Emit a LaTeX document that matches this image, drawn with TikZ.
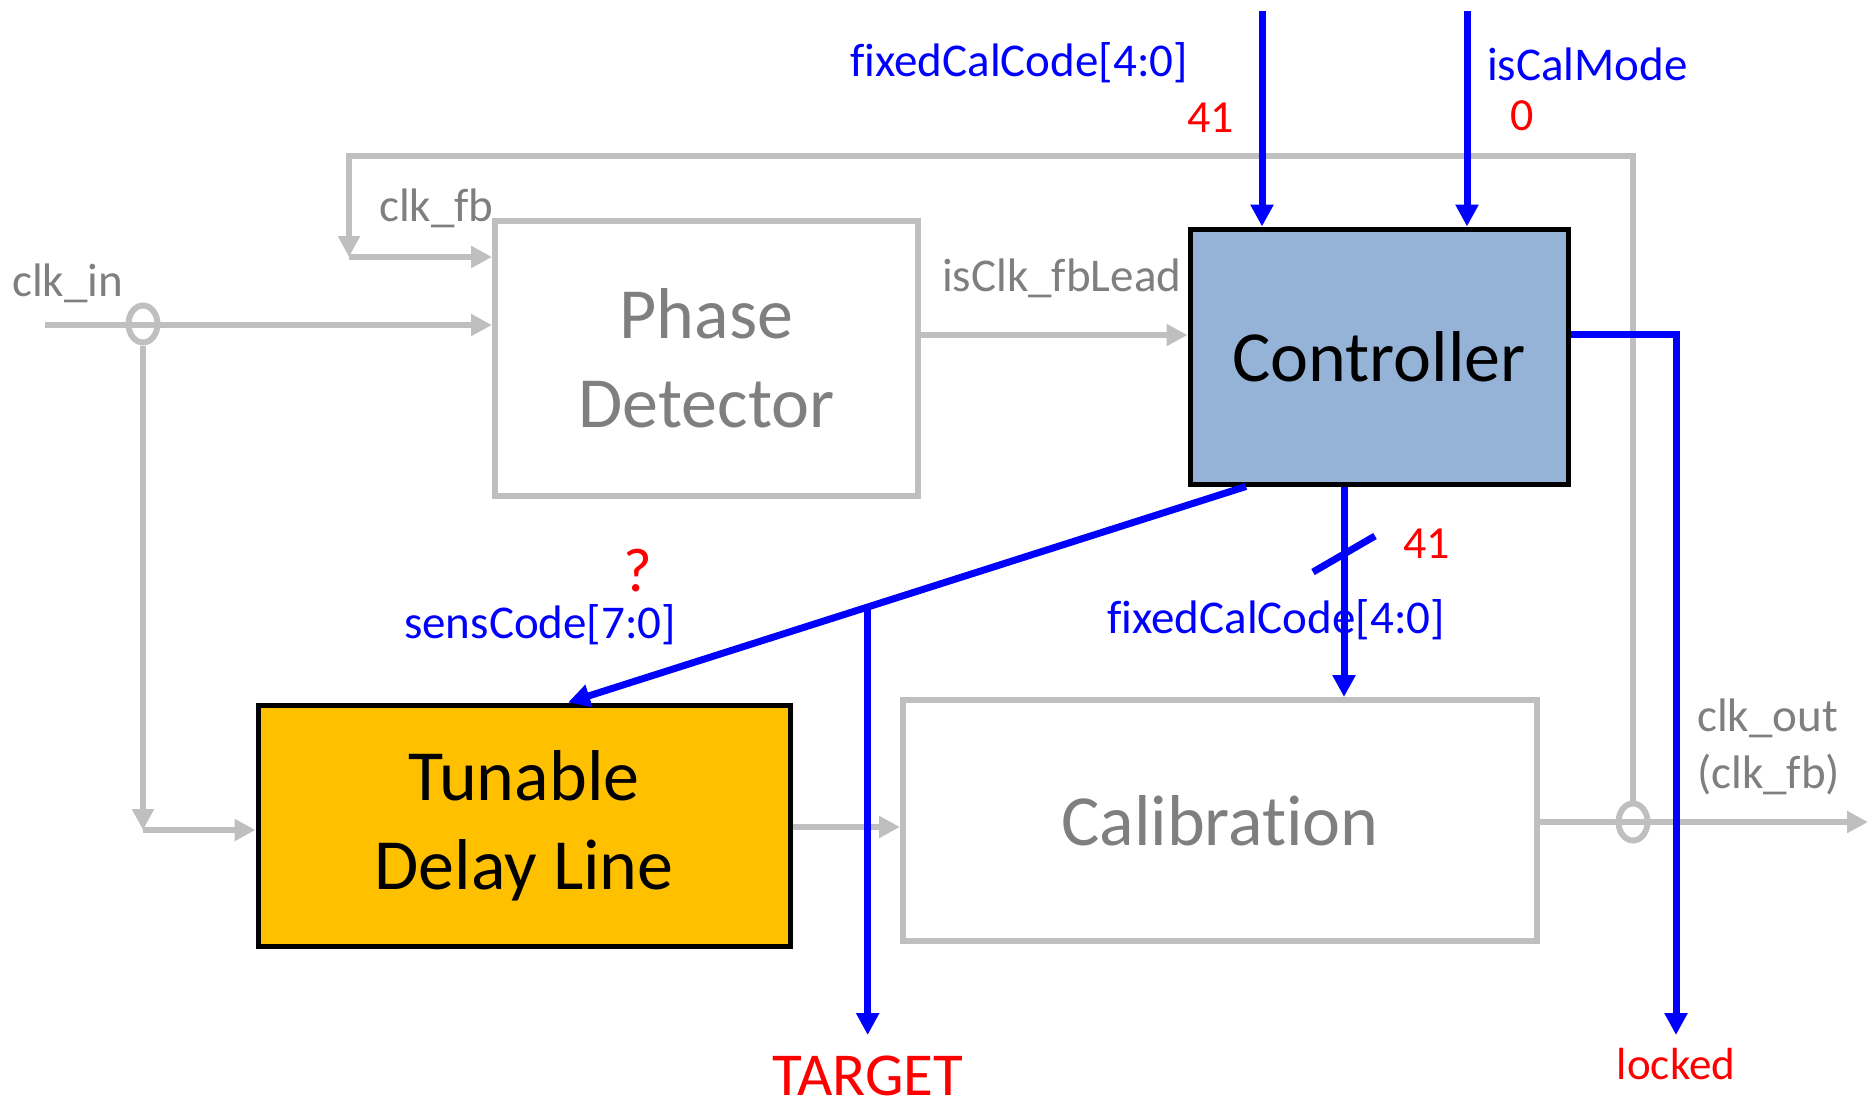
\documentclass[tikz,border=0pt]{standalone}
\usepackage{fontspec}
\setmainfont{Carlito}[Ligatures=NoCommon]
\usetikzlibrary{arrows.meta,calc,shapes.geometric}
\definecolor{linegray}{RGB}{191,191,191}
\definecolor{textgray}{RGB}{127,127,127}
\definecolor{sigblue}{RGB}{0,0,255}
\definecolor{sigred}{RGB}{255,0,0}
\definecolor{ctrlfill}{RGB}{149,179,215}
\definecolor{tdlfill}{RGB}{255,192,0}

\begin{document}
\begin{tikzpicture}[x=1pt,y=-1pt,
  blk/.style={rectangle, inner sep=0pt, align=center, font=\fontsize{72}{89}\selectfont},
  grayblk/.style={blk, draw=linegray, line width=6pt, text=textgray},
  darkblk/.style={blk, draw=black, line width=5pt},
  gline/.style={draw=linegray, line width=6pt},
  garrow/.style={gline, -{Triangle[length=21pt,width=21pt]}},
  bline/.style={draw=sigblue, line width=7pt},
  barrow/.style={bline, -{Triangle[length=22pt,width=22pt]}},
  tap/.style={ellipse, draw=linegray, line width=6pt, minimum width=29pt, minimum height=37pt, inner sep=0pt},
  glabel/.style={inner sep=0pt, text=textgray, font=\fontsize{47}{57}\selectfont},
  blabel/.style={inner sep=0pt, text=sigblue, font=\fontsize{47}{57}\selectfont},
  rlabel/.style={inner sep=0pt, text=sigred, font=\fontsize{46}{56}\selectfont}]

\useasboundingbox (0,0) rectangle (1870,1111);

% blocks
\node[grayblk, minimum width=423pt, minimum height=275pt] (pd) at (706.5,358.5) {Phase\\Detector};
\node[darkblk, fill=ctrlfill, minimum width=378pt, minimum height=255pt] (ctrl) at (1379,356.5) {Controller};
\node[darkblk, fill=tdlfill, minimum width=532pt, minimum height=241pt] (tdl) at (524,825.5) {Tunable\\Delay Line};
\node[grayblk, minimum width=634pt, minimum height=241pt] (cal) at (1220,820.5) {Calibration};

% signal names and values
\node[glabel, anchor=base west] (lclkin) at (12,296) {clk\_in};
\node[glabel, anchor=base west] (lclkfb) at (379,221) {clk\_fb};
\node[glabel, anchor=base west] (llead) at (942,291) {isClk\_fbLead};
\node[glabel, anchor=base west] (lout) at (1697,731) {clk\_out};
\node[glabel, anchor=base west] (loutfb) at (1697,788) {(clk\_fb)};
\node[blabel, anchor=base west] (lfc) at (850,76) {fixedCalCode[4:0]};
\node[rlabel, anchor=base west] (lfcv) at (1187,132) {41};
\node[blabel, anchor=base west] (lcm) at (1487,80) {isCalMode};
\node[rlabel, anchor=base west] (lcmv) at (1510,130) {0};
\node[rlabel, anchor=base west] (lwv) at (1403,558) {41};
\node[blabel, anchor=base west] (lfc2) at (1107,633) {fixedCalCode[4:0]};
\node[rlabel, anchor=base, font=\fontsize{62}{74}\selectfont] (lq) at (638,591) {?};
\node[blabel, anchor=base west] (lsens) at (404,638) {sensCode[7:0]};
\node[rlabel, anchor=base, font=\fontsize{61}{73}\selectfont] (ltgt) at (868,1095) {TARGET};
\node[rlabel, anchor=base, font=\fontsize{45}{54}\selectfont] (llock) at (1676,1079) {locked};

% clock path (gray)
\coordinate (cin) at (45,325);
\node[tap] (lc) at (143,324) {};
\draw[garrow] (cin) -- (cin -| pd.west);
\coordinate (ldn) at (143,830);
\draw[garrow] (lc.south) -- (ldn);
\draw[garrow] (ldn) -- (ldn -| tdl.west);

\coordinate (lead) at (0,335);
\draw[garrow] (lead -| pd.east) -- (lead -| ctrl.west);

\coordinate (dly) at (0,827);
\draw[garrow] (dly -| tdl.east) -- (dly -| cal.west);

\node[tap] (rc) at (1633,822) {};
\coordinate (cout) at (1868,822);
\draw[garrow] (cout -| cal.east) -- (cout);

% feedback clock
\coordinate (fbl) at (349,156);
\coordinate (fbd) at (349,257);
\draw[garrow] (rc.north) |- (fbl) -- (fbd);
\draw[garrow] (fbd) -- (fbd -| pd.west);

% control signals (blue)
\coordinate (fcin) at (1262,11);
\draw[barrow] (fcin) -- (fcin |- ctrl.north);
\coordinate (cmin) at (1467,11);
\draw[barrow] (cmin) -- (cmin |- ctrl.north);

\coordinate (lkt) at (1676,334);
\coordinate (lk) at (1676,1035);
\draw[barrow] (lkt -| ctrl.east) -- (lkt) -- (lk);

\coordinate (fcx) at (1344,0);
\draw[barrow] (fcx |- ctrl.south) -- (fcx |- cal.north);
\coordinate (s1) at (1313,572);
\coordinate (s2) at (1375,536);
\draw[bline] (s1) -- (s2);

\coordinate (ds) at (1246,0);
\coordinate (de) at (568,0);
\draw[barrow] (ds |- ctrl.south) -- (de |- tdl.north);
\coordinate (tb) at ($(ds |- ctrl.south)!0.558!(de |- tdl.north)$);
\coordinate (tg) at (868,1035);
\draw[barrow] (tb) -- (tb |- tg);

\end{tikzpicture}
\end{document}
